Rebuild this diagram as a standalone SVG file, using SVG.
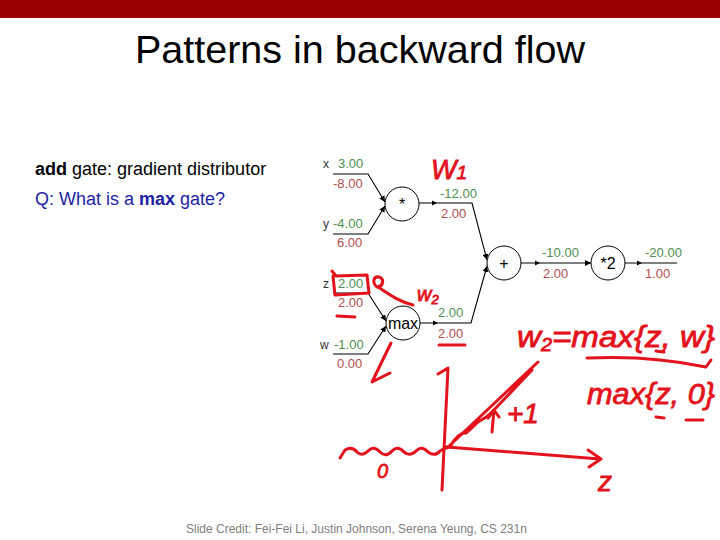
<svg xmlns="http://www.w3.org/2000/svg" width="720" height="540" viewBox="0 0 720 540">
<style>
  .title{font-family:"Liberation Sans",Arial,sans-serif;font-size:39.5px;fill:#000}
  .body{font-family:"Liberation Sans",Arial,sans-serif;font-size:18px}
  .foot{font-family:"Liberation Sans",Arial,sans-serif;font-size:12px;fill:#808080}
  .lbl{font-family:"Liberation Sans",Arial,sans-serif;font-size:12px;fill:#333}
  .fw{font-family:"Liberation Sans",Arial,sans-serif;font-size:13px;fill:#4f8f4f}
  .bw{font-family:"Liberation Sans",Arial,sans-serif;font-size:13px;fill:#b04e4e}
  .gate{fill:#fff;stroke:#000;stroke-width:1}
  .gt{font-family:"Liberation Sans",Arial,sans-serif;font-size:16px;fill:#000;text-anchor:middle}
  .edge{fill:none;stroke:#000;stroke-width:1.1}
  .ink{fill:none;stroke:#e3121c;stroke-width:3;stroke-linecap:round;stroke-linejoin:round}
  .inkt{font-family:"Liberation Sans",Arial,sans-serif;font-style:italic;fill:#e3121c;stroke:#e3121c;stroke-width:0.8}
</style>
<defs>
  <marker id="ah" viewBox="0 0 6 6" refX="6" refY="3" markerWidth="6" markerHeight="6" markerUnits="userSpaceOnUse" orient="auto">
    <path d="M0,0 L6,3 L0,6 Z" fill="#000"/>
  </marker>
</defs>

<rect x="0" y="0" width="720" height="18" fill="#990000"/>
<text class="title" x="360" y="63" text-anchor="middle">Patterns in backward flow</text>

<text class="body" x="35" y="175" fill="#000"><tspan font-weight="bold">add</tspan> gate: gradient distributor</text>
<text class="body" x="35" y="205" fill="#1e1ea6">Q: What is a <tspan font-weight="bold">max</tspan> gate?</text>

<g id="connectors">
  <path class="edge" d="M333,174 H368 L385,202" marker-end="url(#ah)"/>
  <path class="edge" d="M333,234 H368 L385,206" marker-end="url(#ah)"/>
  <path class="edge" d="M333,293 H368 L386,321" marker-end="url(#ah)"/>
  <path class="edge" d="M333,354 H368 L386,326" marker-end="url(#ah)"/>
  <path class="edge" d="M419,203 H472 L487,260" marker-end="url(#ah)"/>
  <path class="edge" d="M420,323 H471 L487,266" marker-end="url(#ah)"/>
  <path class="edge" d="M521,263 H591" marker-end="url(#ah)"/>
  <path class="edge" d="M625,263 H677"/>
  <path d="M432,200.5 L437,203 L432,205.5 Z" fill="#000"/>
  <path d="M433,320.5 L438,323 L433,325.5 Z" fill="#000"/>
  <path d="M535,260.5 L540,263 L535,265.5 Z" fill="#000"/>
  <path d="M637,260.5 L642,263 L637,265.5 Z" fill="#000"/>
</g>

<g id="x">
  <text class="lbl" x="323" y="168">x</text>
  <text class="fw" x="338" y="168">3.00</text>
  <text class="bw" x="333" y="188">-8.00</text>
</g>
<g id="y">
  <text class="lbl" x="323" y="228">y</text>
  <text class="fw" x="333" y="228">-4.00</text>
  <text class="bw" x="337" y="247">6.00</text>
</g>
<g id="z">
  <text class="lbl" x="323" y="288">z</text>
  <text class="fw" x="338" y="288">2.00</text>
  <text class="bw" x="338" y="307">2.00</text>
</g>
<g id="w">
  <text class="lbl" x="320" y="349">w</text>
  <text class="fw" x="334" y="349">-1.00</text>
  <text class="bw" x="337" y="368">0.00</text>
</g>

<g id="mul">
  <circle class="gate" cx="402" cy="204" r="17"/>
  <text class="gt" x="402" y="210" font-size="13">*</text>
  <text class="fw" x="440" y="198">-12.00</text>
  <text class="bw" x="441" y="218">2.00</text>
</g>
<g id="max">
  <circle class="gate" cx="403" cy="323" r="17"/>
  <text class="gt" x="403" y="329" font-size="16.5">max</text>
  <text class="fw" x="438" y="317">2.00</text>
  <text class="bw" x="438" y="338">2.00</text>
</g>
<g id="add">
  <circle class="gate" cx="504" cy="263" r="17"/>
  <text class="gt" x="504" y="269">+</text>
  <text class="fw" x="542" y="257">-10.00</text>
  <text class="bw" x="543" y="278">2.00</text>
</g>
<g id="times2">
  <circle class="gate" cx="608" cy="263" r="17"/>
  <text class="gt" x="608" y="269">*2</text>
  <text class="fw" x="645" y="257">-20.00</text>
  <text class="bw" x="645" y="278">1.00</text>
</g>

<text class="foot" x="186" y="533">Slide Credit: Fei-Fei Li, Justin Johnson, Serena Yeung, CS 231n</text>

<g id="annotations">
  <text class="inkt" x="431" y="179" font-size="27">W<tspan font-size="19">1</tspan></text>
  <path class="ink" d="M332,271 L336,276 L367,275 L369,293 L335,295 L333,276"/>
  <path class="ink" d="M377,287 C372,283 373,276 379,277 C385,279 383,286 378,287 C390,295 400,302 413,305"/>
  <text class="inkt" x="417" y="301" font-size="20">w<tspan font-size="13" dy="3">2</tspan></text>
  <path class="ink" d="M337,316 L355,317"/>
  <path class="ink" stroke-width="4" d="M439,345 L465,345"/>
  <path class="ink" d="M391,343 L372,382 L390,373"/>
  <text class="inkt" x="517" y="347" font-size="30" textLength="198" lengthAdjust="spacingAndGlyphs">w<tspan font-size="18" dy="4">2</tspan><tspan dy="-4">=max{z, w}</tspan></text>
  <path class="ink" stroke-width="4" d="M656,351 L664,352"/>
  <path class="ink" d="M587,358 Q650,355 706,367 L711,360"/>
  <text class="inkt" x="587" y="404" font-size="30" textLength="128" lengthAdjust="spacingAndGlyphs">max{z, 0}</text>
  <path class="ink" stroke-width="4" d="M656,417 L664,418"/>
  <path class="ink" d="M686,420 L703,420"/>
  <path class="ink" d="M438,374 L448,368 L442,490"/>
  <path class="ink" d="M447,447 L600,459 M588,450 L601,459 L589,467"/>
  <path class="ink" d="M340,458 L345,450 Q352,446 357,452 Q362,457 368,451 Q374,445 380,452 Q386,458 392,451 Q398,445 404,452 Q410,457 416,451 Q422,445 428,452 Q435,457 440,451 L447,447"/>
  <path class="ink" d="M447,448 L538,362 M450,447 Q458,432 466,433 Q472,428 478,422 Q486,418 492,412 L532,370"/>
  <path class="ink" d="M492,432 L494,410 M488,418 L494,410 L499,417"/>
  <text class="inkt" x="507" y="423" font-size="28">+1</text>
  <text class="inkt" x="377" y="478" font-size="20">0</text>
  <text class="inkt" x="598" y="491" font-size="28">z</text>
</g>
</svg>
